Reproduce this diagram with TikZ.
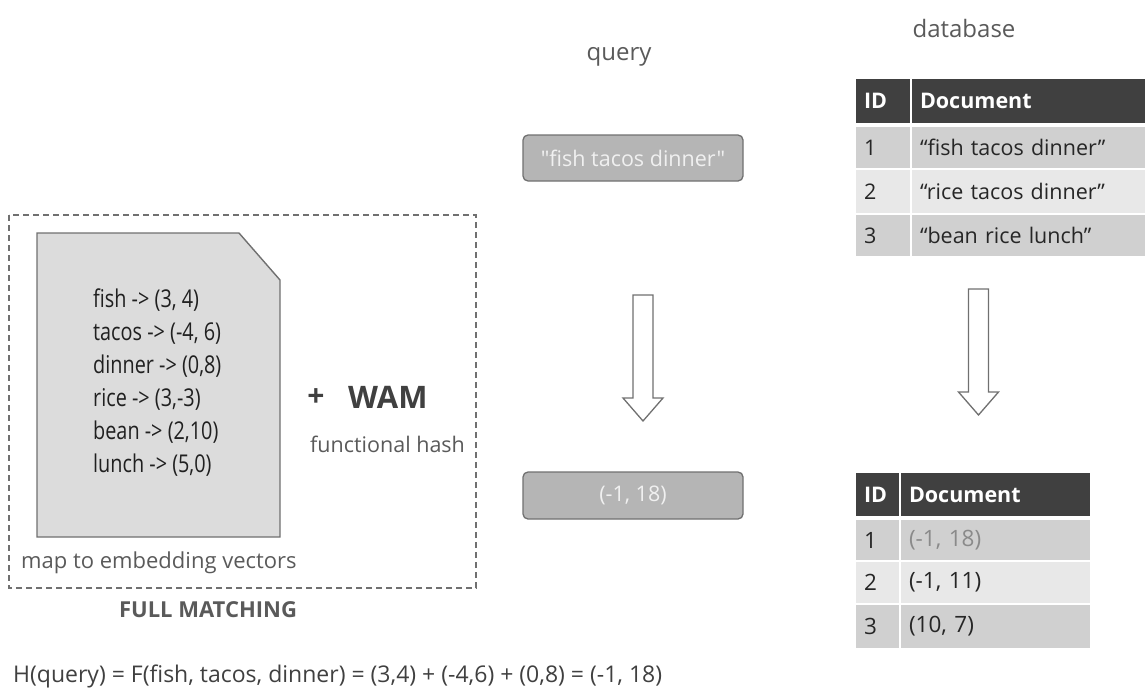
\documentclass[tikz,border=0pt]{standalone}
\usepackage{fontspec}
\setmainfont{Open Sans}
\newfontfamily\listfont[FakeStretch=0.81]{Open Sans}
\newfontfamily\straightfont[Ligatures=TeXOff]{Open Sans}
\definecolor{hdr}{HTML}{404040}
\definecolor{rowa}{HTML}{D0D0D0}
\definecolor{rowb}{HTML}{E8E8E8}
\definecolor{edge}{HTML}{707070}
\definecolor{paper}{HTML}{DCDCDC}
\definecolor{pill}{HTML}{B5B5B5}
\definecolor{ink}{HTML}{262626}
\definecolor{soft}{HTML}{5A5A5A}
\definecolor{dim}{HTML}{8A8A8A}
\tikzset{
  fs/.style={font=\fontsize{#1}{#1}\selectfont},
  cellbox/.style 2 args={anchor=north west, text width=#1pt, minimum height=#2,
    inner xsep=8pt, inner ysep=0pt, align=left, outer sep=0pt, text=ink, fs=21.5},
  headbox/.style 2 args={cellbox={#1}{#2}, fill=hdr, text=white, font=\fontsize{21.5}{21.5}\selectfont\bfseries},
  pillbox/.style={rounded corners=5pt, draw=edge, line width=1.3pt, fill=pill,
    minimum width=220, minimum height=46, text=white!94!black, fs=21.5},
  label/.style={anchor=base west, inner sep=0pt, text=soft, fs=23},
  wordvec/.style={anchor=base west, inner sep=0pt, text=ink!85!black, font=\listfont\fontsize{24.5}{24.5}\selectfont},
  downarrow/.pic={
    \draw[edge, line width=1.3pt, fill=white, line join=miter]
      (-10,0) -- (-10,103) -- (-20,103) -- (0,126) -- (20,103) -- (10,103) -- (10,0) -- cycle;
  }
}
\begin{document}
\begin{tikzpicture}[x=1pt, y=-1pt]
\useasboundingbox (0,0) rectangle (1145,696);

% titles
\node[anchor=base, inner sep=0pt, text=soft, fs=24] (qtitle) at (619,60) {query};
\node[anchor=base, inner sep=0pt, text=soft, fs=24] (dbtitle) at (964,37) {database};

% full matching panel
\draw[edge, line width=1.2pt, dash pattern=on 6pt off 4pt] (9,215) rectangle (476,588);
\draw[edge, line width=1.4pt, fill=paper] (37,233) -- (239,233) -- (280,280) -- (280,537) -- (37,537) -- cycle;
\foreach \w/\t [count=\i from 0] in {fish/{fish -> (3, 4)}, tacos/{tacos -> (-4, 6)},
    dinner/{dinner -> (0,8)}, rice/{rice -> (3,-3)}, bean/{bean -> (2,10)}, lunch/{lunch -> (5,0)}}
  \node[wordvec] (vec-\w) at (93,{307+33*\i}) {\t};
\node[inner sep=0pt, text=hdr, font=\fontsize{30}{30}\selectfont\bfseries] (plus) at (316,398) {+};
\node[anchor=base west, inner sep=0pt, text=hdr, font=\fontsize{31}{31}\selectfont\bfseries] (wam) at (348,408) {WAM};
\node[label, fs=21.5] (hash) at (310,452) {functional hash};
\node[label, fs=22] (embed) at (21,568) {map to embedding vectors};
\node[anchor=base, inner sep=0pt, text=soft, font=\fontsize{22}{22}\selectfont\bfseries] (full) at (208,617) {FULL MATCHING};

% query and its hash
\node[pillbox] (query) at (633,158) {\straightfont "fish tacos dinner"};
\node[pillbox, minimum height=47] (qhash) at (633,495.5) {(-1, 18)};
\pic at (643,295) {downarrow};

% database table
\node[headbox={38}{44}] (db-h-id) at (856,79) {ID};
\node[headbox={217}{44}] (db-h-doc) at (912,79) {Document};
\node[cellbox={38}{41}, fill=rowa] (db-1-id) at (856,127) {1};
\node[cellbox={217}{41}, fill=rowa] (db-1-doc) at (912,127) {“fish tacos dinner”};
\node[cellbox={38}{43}, fill=rowb] (db-2-id) at (856,170) {2};
\node[cellbox={217}{43}, fill=rowb] (db-2-doc) at (912,170) {“rice tacos dinner”};
\node[cellbox={38}{41}, fill=rowa] (db-3-id) at (856,215) {3};
\node[cellbox={217}{41}, fill=rowa] (db-3-doc) at (912,215) {“bean rice lunch”};

\pic at (978.5,289) {downarrow};

% hashed database table
\node[headbox={27}{43}] (hs-h-id) at (856,473) {ID};
\node[headbox={173}{43}] (hs-h-doc) at (901,473) {Document};
\node[cellbox={27}{40}, fill=rowa, fs=22.5] (hs-1-id) at (856,520) {1};
\node[cellbox={173}{40}, fill=rowa, text=dim, fs=22.5] (hs-1-doc) at (901,520) {(-1, 18)};
\node[cellbox={27}{41}, fill=rowb, fs=22.5] (hs-2-id) at (856,562) {2};
\node[cellbox={173}{41}, fill=rowb, fs=22.5] (hs-2-doc) at (901,562) {(-1, 11)};
\node[cellbox={27}{43}, fill=rowa, fs=22.5] (hs-3-id) at (856,605) {3};
\node[cellbox={173}{43}, fill=rowa, fs=22.5] (hs-3-doc) at (901,605) {(10, 7)};

% formula
\node[label, text=hdr] (formula) at (13,682) {H(query) = F(fish, tacos, dinner) = (3,4) + (-4,6) + (0,8) = (-1, 18)};
\end{tikzpicture}
\end{document}
